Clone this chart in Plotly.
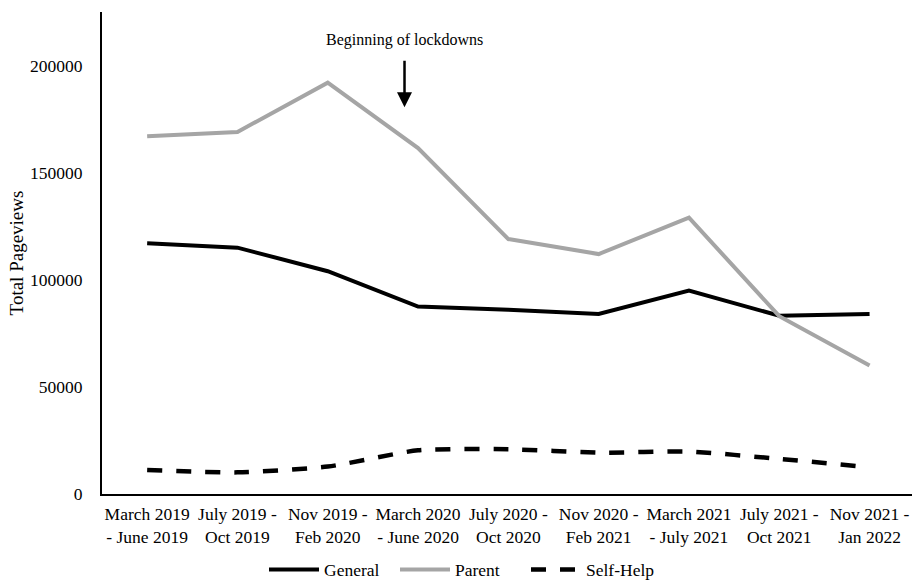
import plotly.graph_objects as go

# Four-month periods on the category axis
periods = [
    "March 2019<br>- June 2019",
    "July 2019 -<br>Oct 2019",
    "Nov 2019 -<br>Feb 2020",
    "March 2020<br>- June 2020",
    "July 2020 -<br>Oct 2020",
    "Nov 2020 -<br>Feb 2021",
    "March 2021<br>- July 2021",
    "July 2021 -<br>Oct 2021",
    "Nov 2021 -<br>Jan 2022",
]

# Total pageviews per section
general = [117000, 115000, 104000, 87500, 86000, 84000, 95000, 83200, 84000]
parent = [167000, 169000, 192000, 161500, 119000, 112000, 129000, 83000, 60000]
self_help = [11200, 10100, 12800, 20400, 20900, 19300, 19800, 16400, 12500]

y_ticks = [0, 50000, 100000, 150000, 200000]

FONT = "Liberation Serif, Times New Roman, serif"
idx = list(range(len(periods)))

fig = go.Figure()
fig.add_trace(go.Scatter(
    x=idx, y=general, name="General", mode="lines",
    line=dict(color="#000000", width=4),
))
fig.add_trace(go.Scatter(
    x=idx, y=parent, name="Parent", mode="lines",
    line=dict(color="#A5A5A5", width=4),
))
fig.add_trace(go.Scatter(
    x=idx, y=self_help, name="Self-Help", mode="lines",
    line=dict(color="#000000", width=4.5, dash="15px,14px",
              shape="spline", smoothing=0.6),
))

# Lockdown marker: label and downward arrow
fig.add_annotation(
    x=2.85, y=212000, xref="x", yref="y",
    text="Beginning of lockdowns", showarrow=False,
    font=dict(family=FONT, size=16, color="#000000"),
)
fig.add_annotation(
    x=2.85, y=180500, xref="x", yref="y",
    ax=2.85, ay=203000, axref="x", ayref="y",
    text="", showarrow=True, arrowhead=2, arrowsize=1.2,
    arrowwidth=2.5, arrowcolor="#000000",
)

fig.update_layout(
    width=912, height=581,
    margin=dict(l=102, r=0, t=12, b=87, autoexpand=False),
    paper_bgcolor="#ffffff", plot_bgcolor="#ffffff",
    font=dict(family=FONT, size=17.5, color="#000000"),
    showlegend=True,
    legend=dict(
        orientation="h", x=0.2, xanchor="left",
        y=-0.157, yanchor="middle",
        font=dict(family=FONT, size=17.5, color="#000000"),
        itemwidth=50, tracegroupgap=0, entrywidth=66,
    ),
    xaxis=dict(
        range=[-0.5, 8.47],
        tickmode="array", tickvals=idx, ticktext=periods,
        showgrid=False, zeroline=False,
        showline=True, linecolor="#000000", linewidth=2,
        ticks="", tickangle=0, ticklabelstandoff=3,
        tickfont=dict(family=FONT, size=17.5),
    ),
    yaxis=dict(
        range=[0, 225000],
        tickmode="array", tickvals=y_ticks,
        ticktext=[str(v) for v in y_ticks],
        showgrid=False, zeroline=False,
        showline=True, linecolor="#000000", linewidth=2,
        ticks="", ticklabelstandoff=14,
        tickfont=dict(family=FONT, size=17.5),
        title=dict(text="Total Pageviews", standoff=1,
                   font=dict(family=FONT, size=19)),
    ),
)

fig.write_html("out.html")
